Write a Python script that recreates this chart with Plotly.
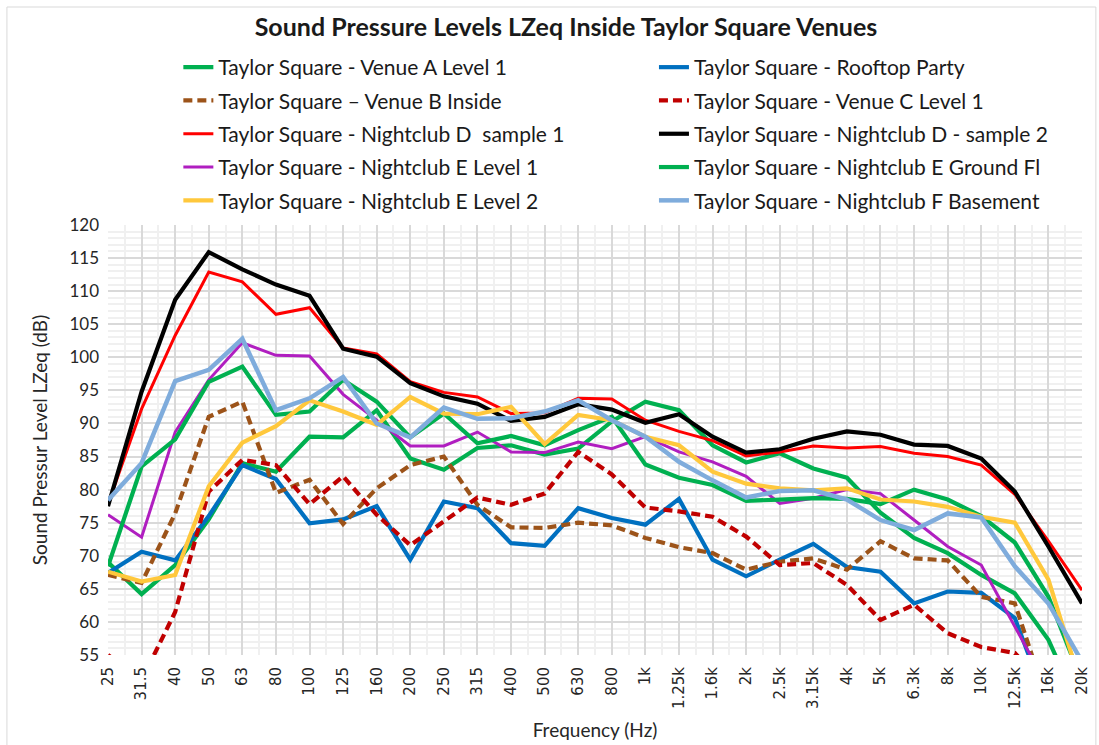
import plotly.graph_objects as go

freqs = ["25", "31.5", "40", "50", "63", "80", "100", "125", "160", "200", "250", "315", "400",
         "500", "630", "800", "1k", "1.25k", "1.6k", "2k", "2.5k", "3.15k", "4k", "5k", "6.3k",
         "8k", "10k", "12.5k", "16k", "20k"]

venue_a_l1 = [69.0, 64.2, 68.6, 75.5, 84.0, 82.7, 88.0, 87.9, 92.0, 84.7, 83.0, 86.3, 86.7, 85.3, 86.2,
              90.3, 93.3, 92.0, 86.7, 84.1, 85.5, 83.2, 81.8, 76.5, 72.7, 70.4, 67.1, 64.3, 57.3, 46.0]
rooftop = [67.4, 70.6, 69.3, 76.0, 83.7, 81.6, 74.9, 75.5, 77.5, 69.4, 78.2, 77.2, 71.9, 71.5, 77.2,
           75.7, 74.7, 78.6, 69.4, 66.9, 69.4, 71.8, 68.3, 67.6, 62.8, 64.6, 64.4, 60.6, 47.0, 45.0]
venue_b = [67.1, 65.9, 76.4, 91.0, 93.3, 79.5, 81.5, 74.8, 80.2, 83.7, 85.0, 77.7, 74.3, 74.2, 75.0,
           74.6, 72.7, 71.3, 70.4, 67.9, 69.1, 69.6, 67.9, 72.2, 69.6, 69.3, 63.8, 62.8, 47.4, 45.0]
venue_c_l1 = [55.0, 51.2, 61.5, 79.7, 84.5, 83.7, 77.8, 82.0, 76.2, 71.6, 75.2, 78.8, 77.7, 79.4, 85.7,
              82.3, 77.3, 76.7, 75.9, 72.9, 68.6, 68.9, 65.6, 60.3, 62.6, 58.3, 56.2, 55.3, 50.0, 45.0]
club_d_s1 = [77.8, 92.2, 103.3, 112.9, 111.4, 106.5, 107.5, 101.4, 100.5, 96.3, 94.7, 94.0, 91.5, 91.6, 93.8,
             93.7, 90.5, 88.8, 87.4, 85.1, 85.7, 86.6, 86.3, 86.5, 85.5, 85.0, 83.7, 79.3, 72.2, 64.8]
club_d_s2 = [77.5, 94.8, 108.7, 115.9, 113.3, 111.0, 109.3, 101.3, 100.1, 96.1, 94.1, 93.0, 90.4, 91.0, 92.9,
             92.1, 90.1, 91.4, 88.0, 85.6, 86.1, 87.7, 88.8, 88.3, 86.8, 86.6, 84.7, 79.7, 71.4, 62.8]
club_e_l1 = [76.2, 72.8, 88.7, 96.6, 102.2, 100.3, 100.2, 94.4, 90.5, 86.6, 86.6, 88.7, 85.7, 85.6, 87.2,
             86.2, 88.0, 85.7, 84.2, 82.0, 77.9, 78.7, 80.0, 79.4, 75.4, 71.4, 68.6, 59.3, 50.0, 45.0]
club_e_ground = [68.4, 83.5, 87.6, 96.3, 98.6, 91.3, 91.8, 96.6, 93.3, 87.9, 91.5, 87.0, 88.1, 86.7, 89.0,
                 91.0, 83.8, 81.8, 80.7, 78.3, 78.5, 78.7, 78.6, 77.8, 80.0, 78.5, 76.0, 72.0, 63.8, 51.0]
club_e_l2 = [67.6, 66.1, 67.1, 80.5, 87.1, 89.6, 93.5, 91.8, 89.8, 94.0, 91.5, 91.4, 92.5, 86.9, 91.3,
             90.5, 88.0, 86.7, 82.7, 80.9, 80.2, 79.9, 80.2, 78.5, 78.2, 77.4, 75.9, 75.0, 66.4, 50.0]
club_f_base = [78.4, 84.0, 96.4, 98.1, 102.8, 92.0, 93.8, 97.0, 90.0, 87.9, 92.4, 90.7, 90.8, 91.8, 93.5,
               90.5, 88.0, 84.2, 81.4, 78.8, 79.8, 79.9, 78.5, 75.4, 73.9, 76.4, 75.8, 68.4, 62.8, 54.0]

series = [
    ("Taylor Square - Venue A Level 1", venue_a_l1, "#00B050", 4.2, "solid", "legend"),
    ("Taylor Square - Rooftop Party", rooftop, "#0070C0", 4.2, "solid", "legend2"),
    ("Taylor Square \u2013 Venue B Inside", venue_b, "#9C5319", 4.2, "9px,5px", "legend"),
    ("Taylor Square - Venue C Level 1", venue_c_l1, "#C00000", 4.2, "9px,5px", "legend2"),
    ("Taylor Square - Nightclub D  sample 1", club_d_s1, "#FF0000", 3.0, "solid", "legend"),
    ("Taylor Square - Nightclub D - sample 2", club_d_s2, "#000000", 4.2, "solid", "legend2"),
    ("Taylor Square - Nightclub E Level 1", club_e_l1, "#B01EC0", 3.0, "solid", "legend"),
    ("Taylor Square - Nightclub E Ground Fl", club_e_ground, "#00B050", 4.2, "solid", "legend2"),
    ("Taylor Square - Nightclub E Level 2", club_e_l2, "#FFC83C", 4.2, "solid", "legend"),
    ("Taylor Square - Nightclub F Basement", club_f_base, "#7FACDC", 4.5, "solid", "legend2"),
]

idx = list(range(len(freqs)))
fig = go.Figure()
for i, (name, vals, color, width, dash, leg) in enumerate(series):
    fig.add_trace(go.Scatter(
        x=idx, y=vals, name=name, mode="lines",
        line=dict(color=color, width=width, dash=dash),
        legend=leg, legendgroup=f"g{i}",
    ))

L, R, T, B = 108, 8, 225, 90
W = 1099 - L - R
H = 745 - T - B

def px_x(p):
    return (p - L) / W

def px_y(p):
    return (T + H - p) / H

legend_common = dict(
    orientation="v", traceorder="grouped", tracegroupgap=3,
    font=dict(family="Lato", size=21, color="#1a1a1a"),
    bgcolor="rgba(0,0,0,0)", borderwidth=0,
    xanchor="left", yanchor="top",
)

fig.update_layout(
    width=1099, height=745,
    margin=dict(l=L, r=R, t=T, b=B),
    paper_bgcolor="white", plot_bgcolor="white",
    title=dict(text="<b>Sound Pressure Levels LZeq Inside Taylor Square Venues</b>",
               x=0.515, xanchor="center", y=1 - 27 / 745, yanchor="middle",
               font=dict(family="Lato", size=25, color="#1a1a1a")),
    legend=dict(x=px_x(179), y=px_y(47), **legend_common),
    legend2=dict(x=px_x(659), y=px_y(47), **legend_common),
    xaxis=dict(
        range=[0, len(freqs) - 1], tickmode="array", tickvals=idx, ticktext=freqs,
        tickangle=-90, tickfont=dict(family="DejaVu Sans", size=15, color="#262626"),
        ticks="", ticklabelstandoff=8, ticklabeloverflow="allow",
        showgrid=True, gridcolor="#D9D9D9", gridwidth=1.5, zeroline=False,
        showline=False,
        minor=dict(tickmode="linear", tick0=0, dtick=0.5, showgrid=True,
                   gridcolor="#F0F0F0", gridwidth=1.5, ticks=""),
        title=dict(text="Frequency (Hz)", standoff=15,
                   font=dict(family="Lato", size=19, color="#262626")),
    ),
    yaxis=dict(
        range=[55, 120], tickmode="linear", tick0=55, dtick=5,
        tickfont=dict(family="Lato", size=17, color="#262626"),
        ticks="", ticklabelstandoff=8,
        showgrid=True, gridcolor="#D9D9D9", gridwidth=1.5, zeroline=False,
        showline=False,
        minor=dict(tickmode="linear", tick0=55, dtick=1, showgrid=True,
                   gridcolor="#F0F0F0", gridwidth=1.5, ticks=""),
        title=dict(text="Sound Pressur Level LZeq (dB)", standoff=16,
                   font=dict(family="Lato", size=19, color="#262626")),
    ),
    shapes=[dict(type="rect", xref="paper", yref="paper",
                 x0=px_x(6), x1=px_x(1105), y0=px_y(752), y1=px_y(7),
                 line=dict(color="#D9D9D9", width=1), fillcolor="rgba(0,0,0,0)", layer="below")],
)

fig.write_html("out.html", config={"displayModeBar": False},
               post_script="document.body.style.margin='0';")
